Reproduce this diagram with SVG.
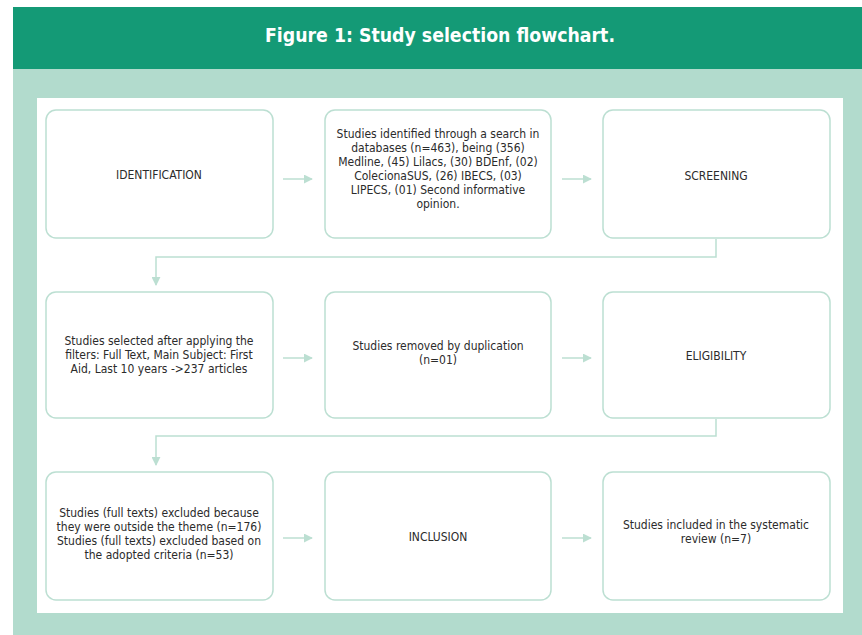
<svg xmlns="http://www.w3.org/2000/svg" width="862" height="635" viewBox="0 0 862 635">
<defs>
<style>
.box{fill:#ffffff;stroke:#bcdfd2;stroke-width:1.5}
.t{font-family:"DejaVu Sans Condensed","Liberation Sans",sans-serif;font-size:12px;fill:#2b2b2b;text-anchor:middle}
.c{fill:none;stroke:#bcdfd2;stroke-width:1.5}
.title{font-family:"DejaVu Sans Condensed","Liberation Sans",sans-serif;font-weight:bold;font-size:20px;fill:#ffffff;text-anchor:middle}
</style>
<marker id="ah" viewBox="0 0 10 10" refX="9" refY="5" markerWidth="6" markerHeight="6" orient="auto" markerUnits="strokeWidth">
<path d="M0,0 L10,5 L0,10 z" fill="#bcdfd2"/>
</marker>
</defs>
<rect x="0" y="0" width="862" height="635" fill="#ffffff"/>
<rect x="13" y="69" width="849" height="566" fill="#b2dbcd"/>
<rect x="13" y="7" width="849" height="62" fill="#149a76"/>
<text class="title" x="440" y="42" textLength="350" lengthAdjust="spacingAndGlyphs">Figure 1: Study selection flowchart.</text>
<rect x="37" y="98" width="806" height="515" fill="#ffffff"/>

<g id="connectors">
<line class="c" x1="283" y1="179" x2="312" y2="179" marker-end="url(#ah)"/>
<line class="c" x1="562" y1="179" x2="591" y2="179" marker-end="url(#ah)"/>
<polyline class="c" points="716,239 716,257 156,257 156,285" marker-end="url(#ah)"/>
<line class="c" x1="283" y1="358" x2="312" y2="358" marker-end="url(#ah)"/>
<line class="c" x1="562" y1="358" x2="591" y2="358" marker-end="url(#ah)"/>
<polyline class="c" points="716,419 716,436 156,436 156,465" marker-end="url(#ah)"/>
<line class="c" x1="283" y1="538" x2="312" y2="538" marker-end="url(#ah)"/>
<line class="c" x1="562" y1="538" x2="591" y2="538" marker-end="url(#ah)"/>
</g>

<g id="identification">
<rect class="box" x="46" y="110" width="227" height="128" rx="10"/>
<text class="t" x="159" y="179">IDENTIFICATION</text>
</g>
<g id="studies-identified">
<rect class="box" x="325" y="110" width="226" height="128" rx="10"/>
<text class="t" x="438" y="138">Studies identified through a search in</text>
<text class="t" x="438" y="152">databases (n=463), being (356)</text>
<text class="t" x="438" y="166">Medline, (45) Lilacs, (30) BDEnf, (02)</text>
<text class="t" x="438" y="180">ColecionaSUS, (26) IBECS, (03)</text>
<text class="t" x="438" y="194">LIPECS, (01) Second informative</text>
<text class="t" x="438" y="208">opinion.</text>
</g>
<g id="screening">
<rect class="box" x="603" y="110" width="227" height="128" rx="10"/>
<text class="t" x="716" y="180">SCREENING</text>
</g>

<g id="studies-selected">
<rect class="box" x="46" y="292" width="227" height="126" rx="10"/>
<text class="t" x="159" y="345">Studies selected after applying the</text>
<text class="t" x="159" y="359">filters: Full Text, Main Subject: First</text>
<text class="t" x="159" y="373">Aid, Last 10 years -&gt;237 articles</text>
</g>
<g id="studies-removed">
<rect class="box" x="325" y="292" width="226" height="126" rx="10"/>
<text class="t" x="438" y="350">Studies removed by duplication</text>
<text class="t" x="438" y="364">(n=01)</text>
</g>
<g id="eligibility">
<rect class="box" x="603" y="292" width="227" height="126" rx="10"/>
<text class="t" x="716" y="360">ELIGIBILITY</text>
</g>

<g id="studies-excluded">
<rect class="box" x="46" y="472" width="227" height="128" rx="10"/>
<text class="t" x="159" y="517">Studies (full texts) excluded because</text>
<text class="t" x="159" y="531">they were outside the theme (n=176)</text>
<text class="t" x="159" y="545">Studies (full texts) excluded based on</text>
<text class="t" x="159" y="559">the adopted criteria (n=53)</text>
</g>
<g id="inclusion">
<rect class="box" x="325" y="472" width="226" height="128" rx="10"/>
<text class="t" x="438" y="541">INCLUSION</text>
</g>
<g id="studies-included">
<rect class="box" x="603" y="472" width="227" height="128" rx="10"/>
<text class="t" x="716" y="529">Studies included in the systematic</text>
<text class="t" x="716" y="543">review (n=7)</text>
</g>
</svg>
